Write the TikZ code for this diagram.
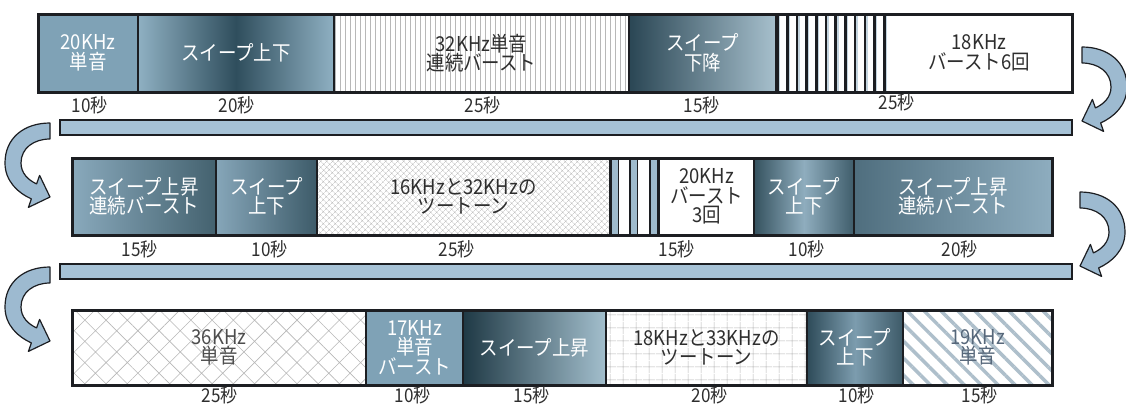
\documentclass[tikz,border=0pt]{standalone}
\usepackage{fontspec}
\setmainfont{Noto Sans CJK JP}[FakeStretch=0.9]
\usetikzlibrary{patterns.meta}
\definecolor{framec}{HTML}{1C1E22}
\definecolor{textdark}{HTML}{2E2E2E}
\definecolor{flatblue}{HTML}{7FA2B6}
\definecolor{barblue}{HTML}{A6C2D6}
\definecolor{arrowblue}{HTML}{9DBAD0}
\definecolor{stripeblue}{HTML}{9FBBCD}
\definecolor{stripelight}{HTML}{C3D4DF}
\definecolor{hatchgray}{HTML}{B8B8B8}
\definecolor{diagblue}{HTML}{AEBFCB}
\definecolor{diagtext}{HTML}{56677A}
\newcommand\mkseg[7]{%
  \pgfmathsetmacro\sbw{#3-#2}%
  \pgfmathsetmacro\sbh{#5-#4}%
  \pgfmathsetmacro\sbx{(#2+#3)/2}%
  \pgfmathsetmacro\sby{(#4+#5)/2}%
  \node[seg,#6,minimum width=\sbw pt,minimum height=\sbh pt] (#1) at (\sbx,\sby) {#7};}
\begin{document}
\begin{tikzpicture}[x=1pt,y=-1pt,
  seg/.style={draw=framec, line width=2.2pt, inner sep=0pt, outer sep=0pt, align=center,
    font=\fontsize{20.5}{19.5}\selectfont, text=white},
  dark/.style={text=textdark},
  flat/.style={fill=#1},
  sweep/.style 2 args={/utils/exec={\definecolor{swl}{HTML}{#1}\definecolor{swr}{HTML}{#2}},
    left color=swl, right color=swr},
  sweepmid/.style n args={3}{/utils/exec={\definecolor{swl}{HTML}{#1}\definecolor{swm}{HTML}{#2}\definecolor{swr}{HTML}{#3}},
    left color=swl, right color=swr, middle color=swm},
  dur/.style={font=\fontsize{19}{19}\selectfont, text=textdark, inner sep=0pt},
  bar/.style={fill=barblue, draw=framec, line width=1.4pt, inner sep=0pt, outer sep=0pt, minimum height=15pt},
  rowframe/.style={draw=framec, line width=3pt},
  arrowshape/.style={fill=arrowblue, draw=framec, line width=1.2pt, line join=round},
  turnarrow/.pic={
    \filldraw[arrowshape] (0,0) .. controls (26,0) and (45,15) .. (45,40)
      .. controls (45,58) and (32,70) .. (18.6,75.9) -- (21.6,84.4) -- (0,74)
      -- (10.4,52.4) -- (13.4,60.9) .. controls (22,57) and (29,50) .. (29,40)
      .. controls (29,25) and (16,16) .. (0,16) -- cycle;
  }]
\useasboundingbox[fill=white] (0,0) rectangle (1126,405);

% ---------- Row 1 ----------
\mkseg{r1a}{38}{138}{14}{92}{flat=flatblue}{20KHz\\単音}
\mkseg{r1b}{138}{334}{14}{92}{sweepmid={8FB0C2}{2F4E5D}{8FB0C2}}{スイープ上下}
\mkseg{r1c}{334}{629}{14}{92}{dark,pattern={Lines[angle=90,distance=5pt,line width=0.8pt]},pattern color=hatchgray}{32KHz単音\\連続バースト}
\mkseg{r1d}{629}{776}{14}{92}{sweep={2A4654}{A7C0CD}}{スイープ\\下降}
\mkseg{r1e}{776}{886}{14}{92}{fill=white}{}
\mkseg{r1f}{886}{1072}{14}{92}{dark,fill=white}{18KHz\\バースト6回}
\foreach \i in {0,...,11}{
  \pgfmathsetmacro\xx{777.5+9.7*\i}
  \fill[stripelight] (\xx+1.3,15) rectangle (\xx+2.8,91);
  \fill[framec] (\xx-1.3,15) rectangle (\xx+1.3,91);
}
\draw[rowframe] (r1a.north west) rectangle (r1f.south east);

\node[dur] (d11) at (90,105) {10秒};
\node[dur] (d12) at (237,105) {20秒};
\node[dur] (d13) at (483,105) {25秒};
\node[dur] (d14) at (702,105) {15秒};
\node[dur] (d15) at (897,102) {25秒};

% ---------- Bar 1 ----------
\node[bar, minimum width=1012pt] (bar1) at (566,127.5) {};

% ---------- Row 2 ----------
\mkseg{r2a}{72}{216}{158}{235}{sweep={89A9BC}{44626F}}{スイープ上昇\\連続バースト}
\mkseg{r2b}{216}{317}{158}{235}{sweep={86A6B9}{3D5B69}}{スイープ\\上下}
\mkseg{r2c}{317}{610}{158}{235}{dark,pattern={Hatch[angle=45,distance=4pt,line width=0.4pt]},pattern color=hatchgray}{16KHzと32KHzの\\ツートーン}
\mkseg{r2d}{610}{659}{158}{235}{fill=white}{}
\mkseg{r2e}{659}{754}{158}{235}{dark,fill=white}{20KHz\\バースト\\3回}
\mkseg{r2f}{754}{854}{158}{235}{sweepmid={35525F}{8FADBE}{3F5D6B}}{スイープ\\上下}
\mkseg{r2g}{854}{1052}{158}{235}{sweep={4F6E7E}{8EADBF}}{スイープ上昇\\連続バースト}
\foreach \s in {611.5,630.5,650.5}{
  \fill[stripeblue] (\s,159) rectangle (\s+6,234);
  \fill[framec] (\s+6,159) rectangle (\s+7.4,234);
  \fill[framec] (\s-1.4,159) rectangle (\s,234);
}
\draw[rowframe] (r2a.north west) rectangle (r2g.south east);

\node[dur] (d21) at (140,249) {15秒};
\node[dur] (d22) at (270,249) {10秒};
\node[dur] (d23) at (457,249) {25秒};
\node[dur] (d24) at (677,249) {15秒};
\node[dur] (d25) at (807,249) {10秒};
\node[dur] (d26) at (960,249) {20秒};

% ---------- Bar 2 ----------
\node[bar, minimum width=1012pt] (bar2) at (566,271.5) {};

% ---------- Row 3 ----------
\mkseg{r3a}{72}{366}{310}{385}{text=textdark!85,pattern={Hatch[angle=45,distance=15pt,line width=0.6pt]},pattern color=hatchgray}{36KHz\\単音}
\mkseg{r3b}{366}{463}{310}{385}{flat=flatblue}{17KHz\\単音\\バースト}
\mkseg{r3c}{463}{606}{310}{385}{sweep={1F3945}{A3BFCD}}{スイープ上昇}
\mkseg{r3d}{606}{807}{310}{385}{dark,pattern={Hatch[angle=0,distance=13pt,line width=0.6pt]},pattern color=hatchgray}{18KHzと33KHzの\\ツートーン}
\mkseg{r3e}{807}{903}{310}{385}{sweepmid={2E4B59}{7C9CAE}{3D5A68}}{スイープ\\上下}
\mkseg{r3f}{903}{1052}{310}{385}{text=diagtext,pattern={Lines[angle=-45,distance=12pt,line width=3.5pt]},pattern color=diagblue}{19KHz\\単音}
\draw[rowframe] (r3a.north west) rectangle (r3f.south east);

\node[dur] (d31) at (220,395.5) {25秒};
\node[dur] (d32) at (413,395.5) {10秒};
\node[dur] (d33) at (532,395.5) {15秒};
\node[dur] (d34) at (710,395.5) {20秒};
\node[dur] (d35) at (857,395.5) {10秒};
\node[dur] (d36) at (980,395.5) {15秒};

% ---------- Turn arrows ----------
\pic at (1082,47) {turnarrow};
\pic at (1080,192) {turnarrow};
\pic[xscale=-1] at (50,123) {turnarrow};
\pic[xscale=-1] at (50,267) {turnarrow};
\end{tikzpicture}
\end{document}
